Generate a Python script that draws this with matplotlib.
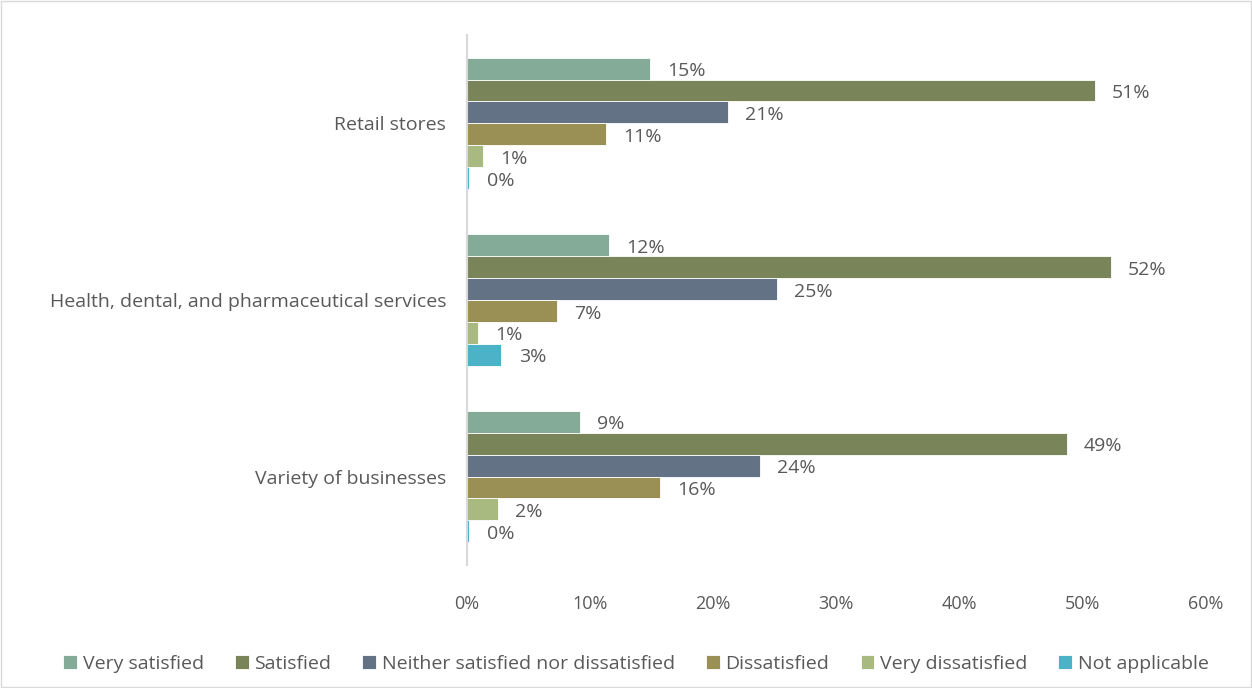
import numpy as np
import matplotlib.pyplot as plt
from matplotlib.patches import Rectangle

plt.rcParams['font.family'] = ['Open Sans', 'DejaVu Sans']

categories = ["Retail stores", "Health, dental, and pharmaceutical services", "Variety of businesses"]
series = ["Very satisfied", "Satisfied", "Neither satisfied nor dissatisfied",
          "Dissatisfied", "Very dissatisfied", "Not applicable"]
very_satisfied = [14.9, 11.5, 9.2]
satisfied = [51.0, 52.3, 48.7]
neither = [21.2, 25.2, 23.8]
dissatisfied = [11.3, 7.3, 15.7]
very_dissatisfied = [1.3, 0.9, 2.5]
not_applicable = [0.2, 2.8, 0.2]
labels = [["15%", "12%", "9%"], ["51%", "52%", "49%"], ["21%", "25%", "24%"],
          ["11%", "7%", "16%"], ["1%", "1%", "2%"], ["0%", "3%", "0%"]]
colors = ['#84AA98', '#7A8459', '#637385', '#9A8F55', '#A8BA80', '#4BB2C8']

values = [very_satisfied, satisfied, neither, dissatisfied, very_dissatisfied, not_applicable]
text_color = '#595959'

fig = plt.figure(figsize=(12.52, 6.88), dpi=100)
ax = fig.add_axes([0.373, 0.179, 0.59, 0.770])

bar_h = 0.124
y = np.arange(len(categories))
for i, (name, vals, c) in enumerate(zip(series, values, colors)):
    pos = y - 2.5 * bar_h + i * bar_h
    ax.barh(pos, vals, height=bar_h, color=c, label=name, edgecolor='white', linewidth=0.6)
    for p, v, lab in zip(pos, vals, labels[i]):
        ax.text(v + 1.4, p + 0.015, lab, va='center', ha='left', fontsize=14, color=text_color)

ax.set_xlim(0, 60)
ax.set_ylim(2.5, -0.5)
ax.set_yticks(y)
ax.set_yticklabels(categories, fontsize=14, color=text_color)
ax.set_xticks(np.arange(0, 61, 10))
ax.set_xticklabels([f"{t}%" for t in range(0, 61, 10)], fontsize=13, color=text_color)
ax.tick_params(axis='both', length=0)
ax.tick_params(axis='y', pad=15)
ax.tick_params(axis='x', pad=22)
for s in ['top', 'right', 'bottom']:
    ax.spines[s].set_visible(False)
ax.spines['left'].set_color('#D9D9D9')
ax.spines['left'].set_linewidth(1.5)

fig.legend(loc='center', bbox_to_anchor=(0.508, 0.035), ncol=6, frameon=False,
           fontsize=14, labelcolor=text_color, handlelength=0.7, handleheight=0.7,
           handletextpad=0.3, columnspacing=1.6)

fig.patches.append(Rectangle((0.001, 0.001), 0.998, 0.998, transform=fig.transFigure,
                             fill=False, edgecolor='#D9D9D9', linewidth=1))

fig.savefig('out.png', dpi=100)
